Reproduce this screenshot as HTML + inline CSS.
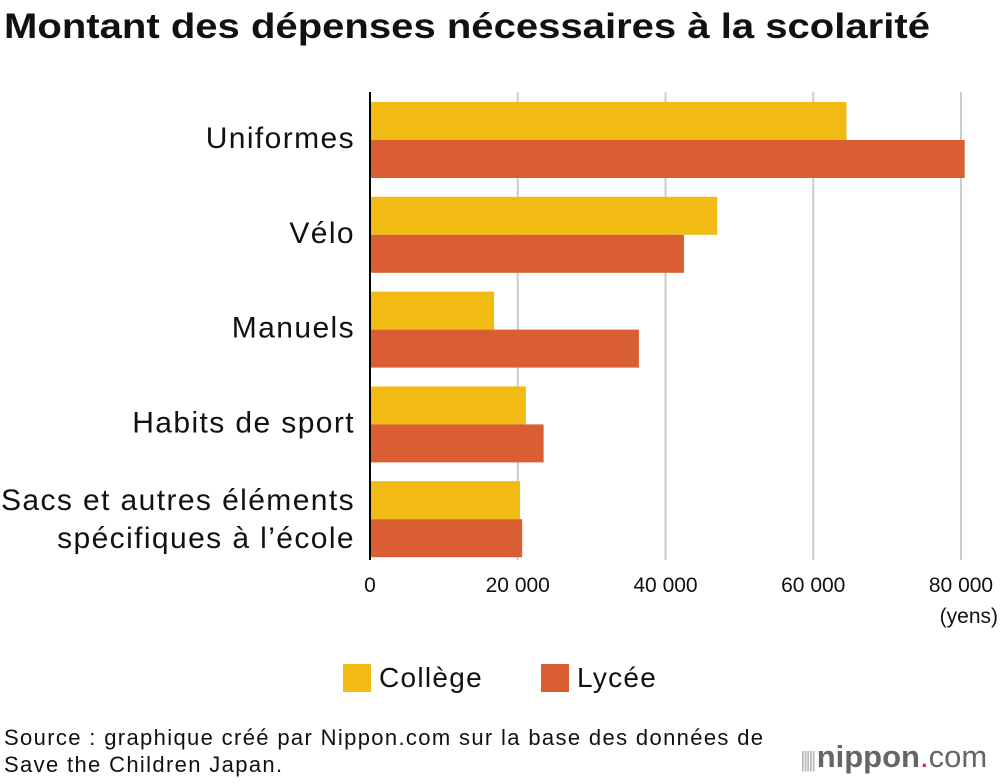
<!DOCTYPE html>
<html><head><meta charset="utf-8"><style>
body{margin:0;width:1000px;height:784px;background:#fff;font-family:"Liberation Sans",sans-serif;overflow:hidden;position:relative}
.t{position:absolute;color:#111;white-space:nowrap}
</style></head><body>
<svg id="c" width="1000" height="784" style="position:absolute;left:0;top:0">
<text x="4" y="38" font-size="35" font-weight="bold" fill="#111" textLength="926" lengthAdjust="spacingAndGlyphs">Montant des dépenses nécessaires à la scolarité</text>
</svg>
<div class="t" style="left:343px;top:662px;font-size:28px;letter-spacing:1.3px"><span style="display:inline-block;width:28px;height:28px;background:#f2bb14;vertical-align:-5px;margin-right:8px"></span>Collège</div>
<div class="t" style="left:541px;top:662px;font-size:28px;letter-spacing:1.3px"><span style="display:inline-block;width:28px;height:28px;background:#d95f32;vertical-align:-5px;margin-right:8px"></span>Lycée</div>
<div class="t" style="left:4px;top:724px;font-size:22px;line-height:27px;letter-spacing:1.35px">Source : graphique créé par Nippon.com sur la base des données de<br>Save the Children Japan.</div>
<div class="t" style="left:800px;top:739px;font-size:31px;color:#666"><span style="font-size:22px;color:#bbb;letter-spacing:-3px">||||| </span><b>nippon</b><span style="color:#e0202a">.</span>com</div>
<script>
const categories=["Uniformes","Vélo","Manuels","Habits de sport","Sacs et autres éléments|spécifiques à l’école"];
const college=[64500,47000,16800,21100,20300];
const lycee=[80500,42500,36400,23500,20600];
const ticks=[0,20000,40000,60000,80000];
const tickLabels=["0","20 000","40 000","60 000","80 000"];
const svg=document.getElementById('c');const NS="http://www.w3.org/2000/svg";
const x=v=>370+v*(591/80000);
function mk(t,a){const e=document.createElementNS(NS,t);for(const k in a)e.setAttribute(k,a[k]);svg.appendChild(e);return e;}
ticks.forEach((t,i)=>{
 if(i>0){const g=mk('line',{x1:x(t),x2:x(t),y1:92,y2:560,stroke:'#ccc','stroke-width':2});
 
 }
 const l=mk('text',{x:x(t),y:592,'text-anchor':'middle','font-size':21,fill:'#111'});l.textContent=tickLabels[i];
 
 
});
const u=mk('text',{x:998,y:623,'text-anchor':'end','font-size':21,fill:'#111'});u.textContent='(yens)';


categories.forEach((c,i)=>{
 const y0=102+i*94.8;
 const b1=mk('rect',{x:x(0),y:y0,width:x(college[i])-x(0),height:38,fill:'#f2bb14'});
 
 
 const b2=mk('rect',{x:x(0),y:y0+38,width:x(lycee[i])-x(0),height:38,fill:'#d95f32'});
 
 
 const parts=c.split('|');
 parts.forEach((p,j)=>{
  const ty=parts.length>1?y0+29+j*38:y0+46;
  const t=mk('text',{x:355,y:ty,'text-anchor':'end','font-size':30,fill:'#111','letter-spacing':'1.4'});t.textContent=p;
  
  
 });
});
const ax=mk('line',{x1:370,x2:370,y1:92,y2:560,stroke:'#000','stroke-width':2});


</script>
</body></html>
